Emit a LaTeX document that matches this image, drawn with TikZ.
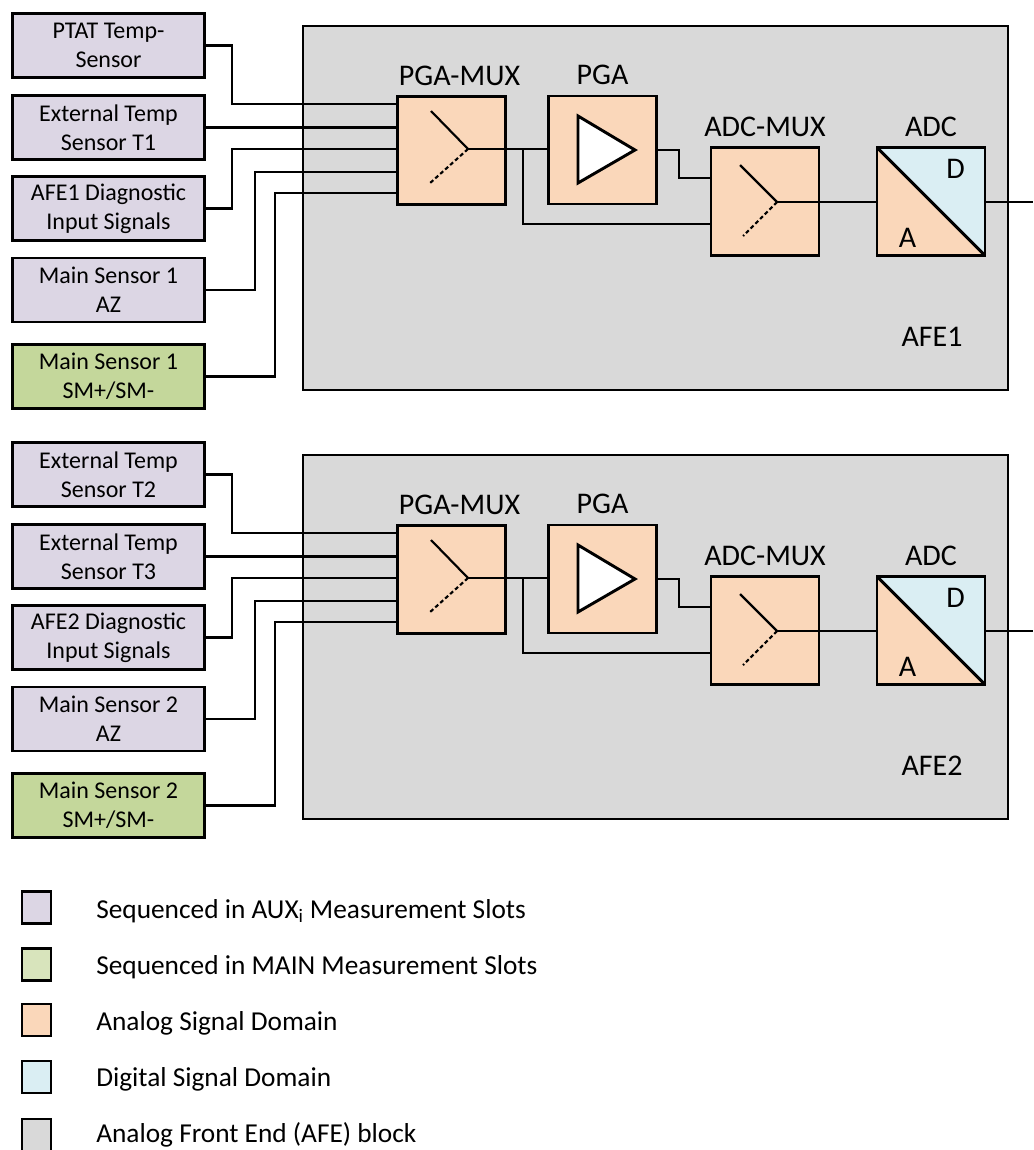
\documentclass[tikz,border=0pt]{standalone}
\usepackage{fontspec}
\setmainfont{Carlito}
\usetikzlibrary{positioning}
\definecolor{auxcol}{RGB}{220,214,228}
\definecolor{maincol}{RGB}{196,215,155}
\definecolor{mainkey}{RGB}{216,228,188}
\definecolor{analog}{RGB}{250,215,186}
\definecolor{digital}{RGB}{218,238,243}
\definecolor{afegrey}{RGB}{217,217,217}

\begin{document}
\begin{tikzpicture}[x=0.75pt,y=0.75pt,yscale=-1,xscale=1,
  sensor/.style={draw,line width=2.2pt,fill=auxcol,minimum width=144pt,minimum height=48pt,inner sep=0pt,align=center,font=\fontsize{18}{21.5}\selectfont},
  mainsensor/.style={sensor,fill=maincol},
  blk/.style={draw,line width=2.2pt,fill=analog,minimum size=81pt,inner sep=0pt},
  adcblk/.style={blk,path picture={
      \fill[digital] (path picture bounding box.north west) -- (path picture bounding box.north east) -- (path picture bounding box.south east) -- cycle;
      \draw[line width=2.2pt] (path picture bounding box.north west) -- (path picture bounding box.south east);}},
  afe/.style={draw,line width=2.2pt,fill=afegrey},
  wire/.style={line width=1.6pt},
  lbl/.style={inner sep=0pt,font=\fontsize{22.5}{27}\selectfont},
  txt/.style={inner sep=0pt,font=\fontsize{22.5}{27}\selectfont},
  keytxt/.style={inner sep=0pt,anchor=base west,font=\fontsize{20.5}{25}\selectfont},
  keybox/.style={draw,line width=2.2pt,minimum width=21.75pt,minimum height=24pt,inner sep=0pt}]
\useasboundingbox (0,0) rectangle (1033,1150);

%AFE1 block
\draw[afe] (303,26) rectangle (1008,390);
\node[txt] (afe1) at (932,337) {AFE1};

%Sensors AFE1
\node[sensor] (s11) at (108.5,45.5) {PTAT Temp-\\Sensor};
\node[sensor] (s12) at (108.5,127.5) {External Temp\\Sensor T1};
\node[sensor] (s13) at (108.5,208.5) {AFE1 Diagnostic\\Input Signals};
\node[sensor] (s14) at (108.5,290) {Main Sensor 1\\AZ};
\node[mainsensor] (s15) at (108.5,376.5) {Main Sensor 1\\SM+/SM-};

%Chain AFE1
\node[blk] (pgamux1) at (451.5,150.5) {};
\node[blk] (pga1) at (602.5,150) {};
\node[blk] (admux1) at (765,201.5) {};
\node[adcblk] (adc1) at (931,201.5) {};
\node[lbl,above=7pt of pgamux1,xshift=6pt] (l11) {PGA-MUX};
\node[lbl,above=7pt of pga1] (l12) {PGA};
\node[lbl,above=7pt of admux1] (l13) {ADC-MUX};
\node[lbl,above=7pt of adc1] (l14) {ADC};
\node[txt] (d1) at (955.5,168.5) {D};
\node[txt] (a1) at (907.5,237.5) {A};

%Inputs AFE1
\draw[wire] (s11.east) -| (232,104) -- (pgamux1.west |- 0,104);
\draw[wire] (s12.east) -- (pgamux1.west |- s12.east);
\draw[wire] (s13.east) -| (232,149) -- (pgamux1.west |- 0,149);
\draw[wire] (s14.east) -| (255,172) -- (pgamux1.west |- 0,172);
\draw[wire] (s15.east) -| (275,193) -- (pgamux1.west |- 0,193);

%Mux switches and links AFE1
\coordinate (v11) at (468,149);
\coordinate (v12) at (777,202);
\coordinate (br1) at (523,149);
\coordinate (out1) at (1033,202);
\draw[wire] (431,111) -- (v11);
\draw[wire,dash pattern=on 3pt off 2pt] (v11) -- (429,184);
\draw[wire] (740,165) -- (v12);
\draw[wire,dash pattern=on 3pt off 2pt] (v12) -- (743,236);
\draw[line width=2.2pt,fill=white] (578,116) -- (635,150) -- (578,183) -- cycle;
\draw[wire] (v11) -- (pga1.west |- v11);
\draw[wire] (br1) |- (admux1.west |- 0,224);
\draw[wire] (pga1.east) -| (679,178) -- (admux1.west |- 0,178);
\draw[wire] (v12) -- (adc1.west |- v12);
\draw[wire] (adc1.east |- v12) -- (out1);

%AFE2 block
\draw[afe] (303,455) rectangle (1008,819);
\node[txt] (afe2) at (932,766) {AFE2};

%Sensors AFE2
\node[sensor] (s21) at (108.5,474.5) {External Temp\\Sensor T2};
\node[sensor] (s22) at (108.5,556.5) {External Temp\\Sensor T3};
\node[sensor] (s23) at (108.5,637.5) {AFE2 Diagnostic\\Input Signals};
\node[sensor] (s24) at (108.5,719) {Main Sensor 2\\AZ};
\node[mainsensor] (s25) at (108.5,805.5) {Main Sensor 2\\SM+/SM-};

%Chain AFE2
\node[blk] (pgamux2) at (451.5,579.5) {};
\node[blk] (pga2) at (602.5,579) {};
\node[blk] (admux2) at (765,630.5) {};
\node[adcblk] (adc2) at (931,630.5) {};
\node[lbl,above=7pt of pgamux2,xshift=6pt] (l21) {PGA-MUX};
\node[lbl,above=7pt of pga2] (l22) {PGA};
\node[lbl,above=7pt of admux2] (l23) {ADC-MUX};
\node[lbl,above=7pt of adc2] (l24) {ADC};
\node[txt] (d2) at (955.5,597.5) {D};
\node[txt] (a2) at (907.5,666.5) {A};

%Inputs AFE2
\draw[wire] (s21.east) -| (232,533) -- (pgamux2.west |- 0,533);
\draw[wire] (s22.east) -- (pgamux2.west |- s22.east);
\draw[wire] (s23.east) -| (232,578) -- (pgamux2.west |- 0,578);
\draw[wire] (s24.east) -| (255,601) -- (pgamux2.west |- 0,601);
\draw[wire] (s25.east) -| (275,622) -- (pgamux2.west |- 0,622);

%Mux switches and links AFE2
\coordinate (v21) at (468,578);
\coordinate (v22) at (777,631);
\coordinate (br2) at (523,578);
\coordinate (out2) at (1033,631);
\draw[wire] (431,540) -- (v21);
\draw[wire,dash pattern=on 3pt off 2pt] (v21) -- (429,613);
\draw[wire] (740,594) -- (v22);
\draw[wire,dash pattern=on 3pt off 2pt] (v22) -- (743,665);
\draw[line width=2.2pt,fill=white] (578,545) -- (635,579) -- (578,612) -- cycle;
\draw[wire] (v21) -- (pga2.west |- v21);
\draw[wire] (br2) |- (admux2.west |- 0,653);
\draw[wire] (pga2.east) -| (679,607) -- (admux2.west |- 0,607);
\draw[wire] (v22) -- (adc2.west |- v22);
\draw[wire] (adc2.east |- v22) -- (out2);

%Legend
\node[keybox,fill=auxcol] (k1) at (36.5,907.5) {};
\node[keybox,fill=mainkey] (k2) at (36.5,964.5) {};
\node[keybox,fill=analog] (k3) at (36.5,1020) {};
\node[keybox,fill=digital] (k4) at (36.5,1077) {};
\node[keybox,fill=afegrey] (k5) at (36.5,1135) {};
\node[keytxt] (t1) at (96,918) {Sequenced in AUX\textsubscript{i} Measurement Slots};
\node[keytxt] (t2) at (96,974) {Sequenced in MAIN Measurement Slots};
\node[keytxt] (t3) at (96,1030) {Analog Signal Domain};
\node[keytxt] (t4) at (96,1086) {Digital Signal Domain};
\node[keytxt] (t5) at (96,1142) {Analog Front End (AFE) block};

\end{tikzpicture}
\end{document}
